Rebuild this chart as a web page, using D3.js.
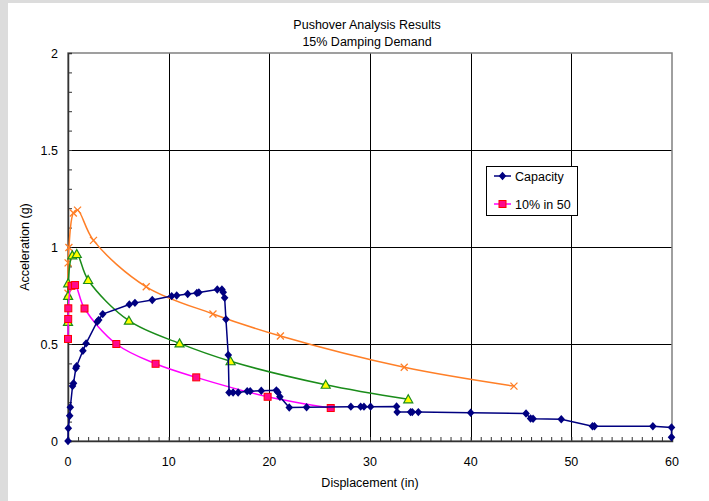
<!DOCTYPE html>
<html>
<head>
<meta charset="utf-8">
<script src="https://cdn.jsdelivr.net/npm/d3@7"></script>
<style>
  body { margin: 0; background: #fff; }
  text { font-family: Arial, "Liberation Sans", sans-serif; fill: #000; }
</style>
</head>
<body>
<script>
// capacity curve (displacement in, acceleration g)
const capDisp = [0, 0.03, 0.17, 0.23, 0.45, 0.55, 0.78, 0.85, 1.48, 1.8, 2.9, 3.05, 3.45, 6.09, 6.65, 8.37, 10.3, 10.8, 11.89, 12.8, 13.0, 14.83, 15.29, 15.42, 15.56, 15.69, 15.92, 16.0, 16.4, 16.9, 17.8, 18.1, 19.2, 20.7, 20.85, 21.05, 21.98, 23.7, 28.1, 29.07, 29.4, 30.06, 32.64, 32.7, 34.03, 34.2, 34.8, 40.0, 45.5, 45.95, 46.2, 49.0, 52.1, 52.3, 58.1, 59.95, 59.95];
const capAcc = [0, 0.066, 0.13, 0.174, 0.283, 0.298, 0.375, 0.385, 0.465, 0.503, 0.615, 0.624, 0.654, 0.704, 0.712, 0.727, 0.747, 0.75, 0.758, 0.763, 0.766, 0.781, 0.781, 0.767, 0.738, 0.627, 0.443, 0.25, 0.25, 0.25, 0.257, 0.257, 0.259, 0.261, 0.251, 0.228, 0.173, 0.174, 0.177, 0.177, 0.177, 0.177, 0.178, 0.149, 0.149, 0.149, 0.149, 0.146, 0.142, 0.116, 0.115, 0.112, 0.076, 0.076, 0.076, 0.07, 0.019];

// 10% in 50 demand
const d10Disp = [0, 0.02, 0.03, 0.35, 0.7, 1.64, 4.8, 8.7, 12.74, 19.83, 26.1];
const d10Acc = [0.526, 0.629, 0.684, 0.8, 0.804, 0.683, 0.5, 0.398, 0.328, 0.228, 0.17];

// green demand (not in legend)
const grnDisp = [0, 0.01, 0.02, 0.43, 0.87, 2.0, 6.05, 11.08, 16.15, 25.6, 33.8];
const grnAcc = [0.614, 0.748, 0.813, 0.957, 0.964, 0.83, 0.62, 0.503, 0.411, 0.29, 0.215];

// orange demand (not in legend)
const orgDisp = [0, 0.01, 0.09, 0.53, 0.95, 2.53, 7.77, 14.4, 21.1, 33.4, 44.3];
const orgAcc = [0.762, 0.918, 0.997, 1.175, 1.19, 1.034, 0.795, 0.655, 0.541, 0.38, 0.283];

const xTicks = [0, 10, 20, 30, 40, 50, 60];
const yTicks = [0, 0.5, 1, 1.5, 2];
const titleLines = ["Pushover Analysis Results", "15% Damping Demand"];
const legendNames = ["Capacity", "10% in 50"];

const W = 709, H = 501;
const margin = { top: 53, right: 37, bottom: 60, left: 68 },
  width = W - margin.left - margin.right,
  height = H - margin.top - margin.bottom;

const root = d3.select("body").append("svg").attr("width", W).attr("height", H);

// light grey window edge
root.append("rect").attr("width", W).attr("height", 3).attr("fill", "#dcdcdc");
root.append("rect").attr("width", 8).attr("height", H).attr("fill", "#dcdcdc");

const svg = root.append("g").attr("transform", "translate(" + margin.left + "," + margin.top + ")");

const x = d3.scaleLinear().domain([0, 60]).range([0, width]);
const y = d3.scaleLinear().domain([0, 2]).range([height, 0]);

// grid
svg.selectAll(".vgrid").data(xTicks.slice(1, -1)).join("line")
  .attr("x1", d => Math.round(x(d)) + 0.5).attr("x2", d => Math.round(x(d)) + 0.5)
  .attr("y1", 0).attr("y2", height)
  .attr("stroke", "#000").attr("stroke-width", 1);
svg.selectAll(".hgrid").data(yTicks.slice(1, -1)).join("line")
  .attr("y1", d => Math.round(y(d)) + 0.5).attr("y2", d => Math.round(y(d)) + 0.5)
  .attr("x1", 0).attr("x2", width)
  .attr("stroke", "#000").attr("stroke-width", 1);

// plot frame
svg.append("rect").attr("x", 0).attr("y", 0).attr("width", width).attr("height", height)
  .attr("fill", "none").attr("stroke", "#808080").attr("stroke-width", 1.5);

// axes with inward minor ticks
const xAxis = svg.append("g").attr("transform", "translate(0," + height + ")")
  .call(d3.axisBottom(x).ticks(60).tickSize(-4).tickFormat(""));
const yAxis = svg.append("g")
  .call(d3.axisLeft(y).ticks(20).tickSize(-4).tickFormat(""));
[xAxis, yAxis].forEach(g => {
  g.selectAll("path").attr("stroke", "#333").attr("stroke-width", 1.5);
  g.selectAll("line").attr("stroke", "#333");
});

svg.selectAll(".xlab").data(xTicks).join("text")
  .attr("x", d => x(d)).attr("y", height + 25)
  .attr("text-anchor", "middle").attr("font-size", 12.5).text(d => d);
svg.selectAll(".ylab").data(yTicks).join("text")
  .attr("x", -10).attr("y", d => y(d) + 4.5)
  .attr("text-anchor", "end").attr("font-size", 12.5).text(d => d);

// titles
svg.selectAll(".title").data(titleLines).join("text")
  .attr("x", width / 2 - 3).attr("y", (d, i) => -24 + i * 16.5)
  .attr("text-anchor", "middle").attr("font-size", 12.5).text(d => d);
svg.append("text").attr("x", width / 2).attr("y", height + 46)
  .attr("text-anchor", "middle").attr("font-size", 12.5).text("Displacement (in)");
svg.append("text").attr("transform", "translate(" + (-39) + "," + (height / 2) + ") rotate(-90)")
  .attr("text-anchor", "middle").attr("font-size", 12.5).text("Acceleration (g)");

const zip = (xs, ys) => xs.map((d, i) => [d, ys[i]]);
const smooth = d3.line().x(d => x(d[0])).y(d => y(d[1])).curve(d3.curveCatmullRom.alpha(0.5));
const straight = d3.line().x(d => x(d[0])).y(d => y(d[1]));

const orange = zip(orgDisp, orgAcc);
const green = zip(grnDisp, grnAcc);
const pink = zip(d10Disp, d10Acc);
const cap = zip(capDisp, capAcc);

svg.append("path").datum(orange).attr("fill", "none").attr("stroke", "#ff7f27").attr("stroke-width", 1.5).attr("d", smooth);
svg.selectAll(".xm").data(orange).join("path")
  .attr("transform", d => "translate(" + x(d[0]) + "," + y(d[1]) + ")")
  .attr("d", "M-3.5,-3.5L3.5,3.5M-3.5,3.5L3.5,-3.5")
  .attr("stroke", "#ff7f27").attr("stroke-width", 1.3).attr("fill", "none");

svg.append("path").datum(green).attr("fill", "none").attr("stroke", "#1a8c1a").attr("stroke-width", 1.5).attr("d", smooth);
svg.selectAll(".tri").data(green).join("path")
  .attr("transform", d => "translate(" + x(d[0]) + "," + y(d[1]) + ")")
  .attr("d", "M0,-4.5L4.5,3.5L-4.5,3.5Z")
  .attr("fill", "#ffff00").attr("stroke", "#1a8c1a").attr("stroke-width", 1.2);

svg.append("path").datum(pink).attr("fill", "none").attr("stroke", "#ff00ff").attr("stroke-width", 1.5).attr("d", smooth);
svg.selectAll(".sq").data(pink).join("rect")
  .attr("x", d => x(d[0]) - 3.5).attr("y", d => y(d[1]) - 3.5)
  .attr("width", 7).attr("height", 7)
  .attr("fill", "#ff0a8c").attr("stroke", "#ff0000").attr("stroke-width", 1);

svg.append("path").datum(cap).attr("fill", "none").attr("stroke", "#000080").attr("stroke-width", 1.5).attr("d", straight);
svg.selectAll(".dia").data(cap).join("path")
  .attr("transform", d => "translate(" + x(d[0]) + "," + y(d[1]) + ")")
  .attr("d", "M0,-4.2L3.8,0L0,4.2L-3.8,0Z")
  .attr("fill", "#000080");

// legend
const lg = root.append("g").attr("transform", "translate(486,166)");
lg.append("rect").attr("x", 0.5).attr("y", 0.5).attr("width", 91).attr("height", 49)
  .attr("fill", "#fff").attr("stroke", "#000").attr("stroke-width", 1);
legendNames.forEach((name, i) => {
  const cy = 10 + i * 28;
  const col = i === 0 ? "#000080" : "#ff00ff";
  lg.append("line").attr("x1", 8).attr("x2", 25).attr("y1", cy).attr("y2", cy)
    .attr("stroke", col).attr("stroke-width", 1.5);
  if (i === 0) {
    lg.append("path").attr("transform", "translate(16.5," + cy + ")")
      .attr("d", "M0,-4.2L3.8,0L0,4.2L-3.8,0Z").attr("fill", "#000080");
  } else {
    lg.append("rect").attr("x", 13).attr("y", cy - 3.5).attr("width", 7).attr("height", 7)
      .attr("fill", "#ff0a8c").attr("stroke", "#ff0000");
  }
  lg.append("text").attr("x", 29).attr("y", cy + 4.5).attr("font-size", 12.5).text(name);
});
</script>
</body>
</html>
